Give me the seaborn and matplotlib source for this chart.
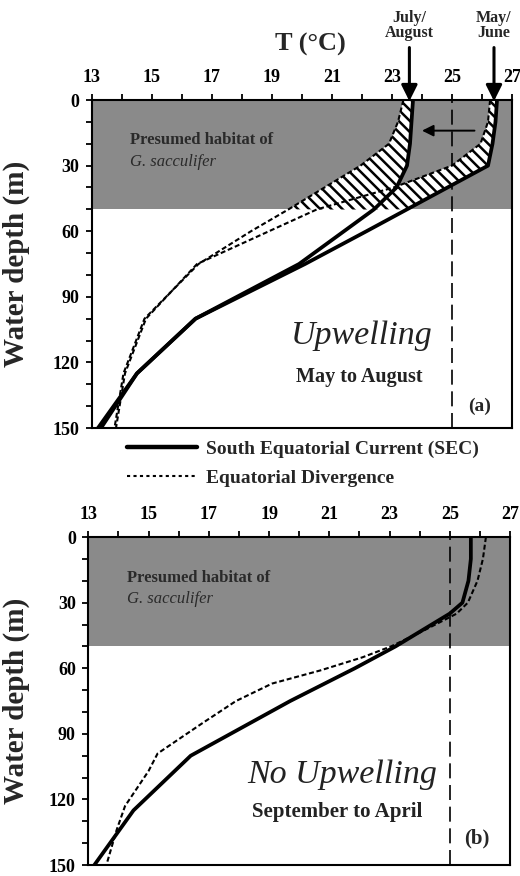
import numpy as np
import pandas as pd
import matplotlib
matplotlib.use("Agg")
import matplotlib.pyplot as plt
import seaborn as sns
from matplotlib.lines import Line2D
from matplotlib.ticker import MultipleLocator

# ---------------- data ----------------
# Panel (a): upwelling, May to August
depth_a = [0, 10, 20, 30, 40, 50, 60, 75, 100, 125, 150]
sec_may_june = [26.5, 26.45, 26.35, 26.2, 24.85, 23.5, 22.15, 20.1, 16.45, 14.5, 13.3]
sec_july_aug = [23.7, 23.65, 23.6, 23.5, 23.15, 22.4, 21.4, 19.9, 16.45, 14.5, 13.2]
ed_may_june = [26.27, 26.2, 25.95, 25.0, 23.05, 20.5, 18.9, 16.5, 14.8, 14.1, 13.8]
ed_july_aug = [23.38, 23.2, 22.9, 21.95, 20.75, 19.55, 18.3, 16.55, 14.75, 14.05, 13.75]

# Panel (b): no upwelling, September to April
depth_b_sec = [0, 10, 20, 30, 35, 50, 60, 75, 100, 125, 150]
sec_b = [25.7, 25.7, 25.62, 25.42, 25.0, 23.2, 21.85, 19.7, 16.4, 14.5, 13.2]
depth_b_ed = [0, 10, 20, 30, 35, 43, 50, 55, 61, 67, 75, 85, 99, 107, 123, 134, 150]
ed_b = [26.2, 26.1, 25.92, 25.6, 25.23, 24.1, 23.05, 22.1, 20.7, 19.1, 17.9, 16.8,
        15.3, 15.0, 14.22, 13.94, 13.6]

habitat_depth = 50
threshold_T = 25
x_ticks = [13, 15, 17, 19, 21, 23, 25, 27]
y_ticks = [0, 30, 60, 90, 120, 150]
legend_labels = ["South Equatorial Current (SEC)", "Equatorial Divergence"]

# ---------------- style ----------------
sns.set_style("ticks")
plt.rcParams["font.family"] = ["Liberation Serif", "DejaVu Serif"]
plt.rcParams["hatch.linewidth"] = 1.8
plt.rcParams["hatch.color"] = "black"

SHADE = "#8a8a8a"
SEC_LW = 2.7
ED_LW = 1.5
ED_DASH = (0, (2.4, 1.3))

fig = plt.figure(figsize=(5.2, 8.76), dpi=100)
ax_a = fig.add_axes([0.1769, 0.5114, 0.8077, 0.3744])
ax_b = fig.add_axes([0.1698, 0.0125, 0.8110, 0.3744])


def frame(ax):
    ax.set_xlim(13, 27)
    ax.set_ylim(150, 0)
    ax.xaxis.tick_top()
    ax.set_xticks(x_ticks)
    ax.set_yticks(y_ticks)
    ax.xaxis.set_minor_locator(MultipleLocator(1))
    ax.yaxis.set_minor_locator(MultipleLocator(10))
    ax.tick_params(axis="both", which="both", direction="out", length=4, width=1.3,
                   color="black", labelsize=13, labelcolor="black")
    ax.tick_params(axis="x", pad=6)
    ax.tick_params(axis="y", pad=5)
    for lab in ax.get_xticklabels() + ax.get_yticklabels():
        lab.set_fontweight("bold")
    for s in ax.spines.values():
        s.set_visible(True)
        s.set_linewidth(1.5)
        s.set_color("black")
    ax.axhspan(0, habitat_depth, color=SHADE, lw=0, zorder=0)
    ax.axvline(threshold_T, color="black", lw=1.2, dashes=(9, 4), zorder=1)
    ax.text(14.27, 18.5, "Presumed habitat of", fontsize=12, fontweight="bold",
            color="#2a2a2a", ha="left", va="center", zorder=3)
    ax.text(14.27, 28.5, "G. sacculifer", fontsize=12, color="#2a2a2a",
            style="italic", ha="left", va="center", zorder=3)


def labels(ax, xpos):
    ax.set_xlabel("")
    ax.set_ylabel("Water depth (m)", fontsize=21, fontweight="bold")
    ax.yaxis.set_label_coords(xpos, 0.5)


def line(ax, T, d, solid=True):
    df = pd.DataFrame({"T": T, "depth": d})
    sns.lineplot(data=df, x="T", y="depth", sort=False, orient="y", estimator=None,
                 ax=ax, color="black", lw=SEC_LW if solid else ED_LW,
                 linestyle="-" if solid else ED_DASH, zorder=4)


# ---------------- panel (a) ----------------
frame(ax_a)
da = np.array(depth_a)
m = da <= habitat_depth
for ed, sec in [(ed_july_aug, sec_july_aug), (ed_may_june, sec_may_june)]:
    ax_a.fill_betweenx(da[m], np.array(ed)[m], np.array(sec)[m], facecolor="white",
                       edgecolor="black", hatch="\\\\\\", lw=0, zorder=2)
line(ax_a, ed_july_aug, depth_a, solid=False)
line(ax_a, ed_may_june, depth_a, solid=False)
line(ax_a, sec_july_aug, depth_a)
line(ax_a, sec_may_june, depth_a)
labels(ax_a, -0.148)

ax_a.text(0.519, 1.168, "T (°C)", transform=ax_a.transAxes, fontsize=19,
          fontweight="bold", ha="center", va="center")
for xT, lab in [(23.58, "July/\nAugust"), (26.4, "May/\nJune")]:
    ax_a.annotate("", xy=(xT, 0.5), xytext=(xT, -24), annotation_clip=False,
                  arrowprops=dict(arrowstyle="-|>", lw=2.2, color="black",
                                  mutation_scale=24, shrinkA=0, shrinkB=0), zorder=6)
    ax_a.text(xT, -34, lab, fontsize=11.5, fontweight="bold", ha="center", va="center",
              linespacing=0.9, clip_on=False)
ax_a.annotate("", xy=(24.0, 14), xytext=(25.75, 14),
              arrowprops=dict(arrowstyle="-|>", lw=1.4, color="black",
                              mutation_scale=17, shrinkA=0, shrinkB=0), zorder=6)
ax_a.text(22.0, 108, "Upwelling", fontsize=24.5, style="italic", color="#222222",
          ha="center", va="center")
ax_a.text(21.9, 126.5, "May to August", fontsize=14.5, fontweight="bold",
          color="#222222", ha="center", va="center")
ax_a.text(25.93, 140, "(a)", fontsize=14, fontweight="bold", ha="center", va="center")

# ---------------- panel (b) ----------------
frame(ax_b)
line(ax_b, ed_b, depth_b_ed, solid=False)
line(ax_b, sec_b, depth_b_sec)
labels(ax_b, -0.138)
ax_b.text(21.42, 108.5, "No Upwelling", fontsize=24.5, style="italic", color="#222222",
          ha="center", va="center")
ax_b.text(21.26, 125.7, "September to April", fontsize=15, fontweight="bold",
          color="#222222", ha="center", va="center")
ax_b.text(25.9, 138, "(b)", fontsize=15, fontweight="bold", ha="center", va="center")

# ---------------- legend ----------------
handles = [Line2D([], [], color="black", lw=3.2),
           Line2D([], [], color="black", lw=1.5, linestyle=(0, (1.5, 1.6)))]
leg = fig.legend(handles, legend_labels, loc="upper left",
                 bbox_to_anchor=(0.244, 0.497), frameon=False,
                 prop={"size": 14, "weight": "bold"},
                 handlelength=3.6, handletextpad=0.45, labelspacing=0.55,
                 borderpad=0, borderaxespad=0)

fig.savefig("out.png", dpi=100)
